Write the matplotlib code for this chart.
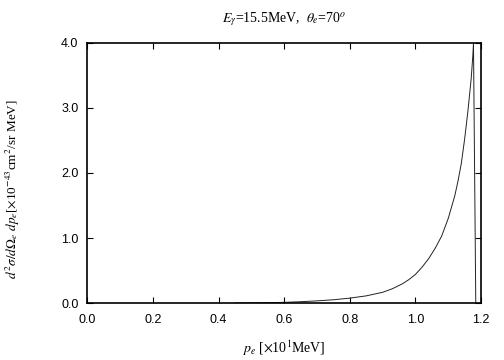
import numpy as np
import matplotlib
matplotlib.use('Agg')
import matplotlib.pyplot as plt

# curve
pe = [0.45, 0.50, 0.55, 0.60, 0.65, 0.70, 0.75, 0.80, 0.85, 0.90, 0.93, 0.96,
      0.98, 1.00, 1.02, 1.04, 1.06, 1.08, 1.10, 1.12, 1.13, 1.14, 1.15,
      1.16, 1.165, 1.17, 1.175, 1.177, 1.184]
xsec = [0.0, 0.003, 0.006, 0.010, 0.020, 0.033, 0.050, 0.075, 0.11, 0.165, 0.22, 0.295,
        0.36, 0.44, 0.55, 0.68, 0.84, 1.03, 1.30, 1.65, 1.88, 2.15, 2.52,
        2.95, 3.20, 3.45, 3.80, 4.0, 0.0]

xticks = [0.0, 0.2, 0.4, 0.6, 0.8, 1.0, 1.2]
yticks = [0.0, 1.0, 2.0, 3.0, 4.0]

plt.rcParams['mathtext.fontset'] = 'stix'
plt.rcParams['font.family'] = 'Liberation Sans'

fig = plt.figure(figsize=(5.04, 3.6), dpi=100)
ax = fig.add_axes([0.1736, 0.1583, 0.9544 - 0.1736, 0.8806 - 0.1583])

ax.plot(pe, xsec, color='#222222', lw=0.7)

ax.set_xlim(0, 1.2)
ax.set_ylim(0, 4.0)
ax.set_xticks(xticks)
ax.set_yticks(yticks)
ax.set_xticklabels(['%.1f' % v for v in xticks])
ax.set_yticklabels(['%.1f' % v for v in yticks])
ax.tick_params(direction='in', top=True, right=True, length=4, width=0.8,
               labelsize=9)
ax.tick_params(axis='x', pad=8)
ax.tick_params(axis='y', pad=6.5)
for s in ax.spines.values():
    s.set_linewidth(1.2)

ax.set_title(r'$E_\gamma$=15.5MeV,  $\theta_e$=70$^o$', fontsize=10,
             family='Liberation Serif', pad=15)
ax.set_xlabel(r'$p_e$ [$\times$10$^1$MeV]', fontsize=10,
              family='Liberation Serif', labelpad=9)
ax.set_ylabel(r'$d^2\sigma/d\Omega_e\ dp_e$[$\times$10$^{-43}$cm$^2$/sr MeV]',
              fontsize=9.5, family='Liberation Serif')
ax.yaxis.set_label_coords(-0.167, 0.44)

fig.savefig('out.png', dpi=100)
